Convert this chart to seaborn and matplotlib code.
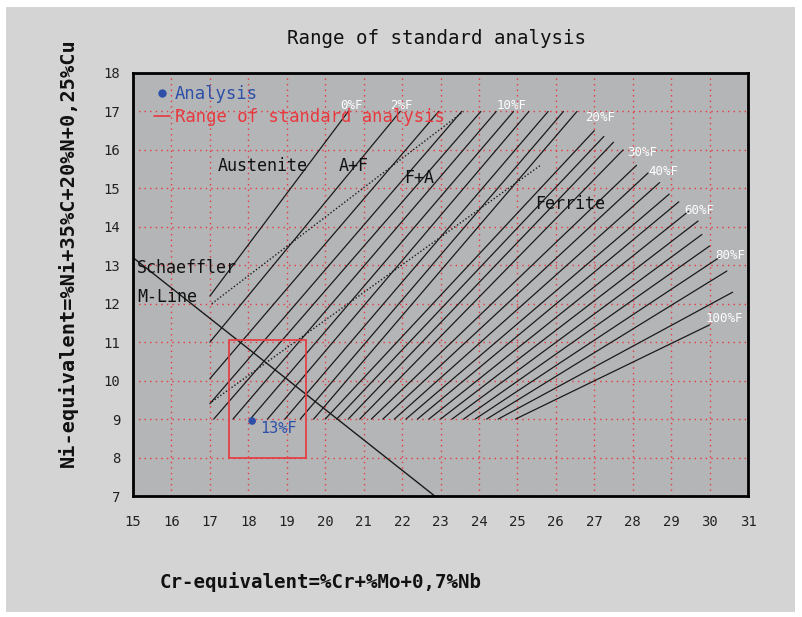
import matplotlib
matplotlib.use('Agg')
import matplotlib.pyplot as plt
import seaborn as sns
import pandas as pd
from matplotlib.patches import Rectangle
from matplotlib.lines import Line2D

# iso-ferrite lines: start and end points
line_x0 = [17.0, 17.0, 17.0, 17.0, 17.1, 17.6, 18.05, 18.5, 18.95, 19.35, 19.7, 20.0, 20.3, 20.6,
           20.9, 21.2, 21.5, 21.8, 22.1, 22.4, 22.7, 23.0, 23.3, 23.6, 23.9, 24.2, 24.5, 24.95]
line_y0 = [12.2, 11.0, 10.05, 9.4, 9.0, 9.0, 9.0, 9.0, 9.0, 9.0, 9.0, 9.0, 9.0, 9.0,
           9.0, 9.0, 9.0, 9.0, 9.0, 9.0, 9.0, 9.0, 9.0, 9.0, 9.0, 9.0, 9.0, 9.0]
line_x1 = [20.6, 21.95, 22.95, 23.55, 24.05, 24.45, 24.9, 25.3, 25.8, 26.2, 26.55, 27.0, 27.25, 27.5,
           27.75, 28.1, 28.4, 28.7, 28.95, 29.2, 29.45, 29.7, 29.8, 30.0, 30.25, 30.45, 30.6, 30.0]
line_y1 = [17.0, 17.0, 17.0, 17.0, 17.0, 17.0, 17.0, 17.0, 17.0, 17.0, 17.0, 16.5, 16.35, 16.2,
           16.0, 15.6, 15.4, 15.15, 14.85, 14.65, 14.4, 14.15, 13.8, 13.5, 13.2, 12.85, 12.3, 11.45]

# dotted phase boundaries
dot_x0 = [17.05, 17.05]
dot_y0 = [12.0, 9.45]
dot_x1 = [23.6, 25.6]
dot_y1 = [17.0, 15.6]

# Schaeffler M-line
mline_x = [15.0, 22.85]
mline_y = [13.2, 7.0]

# white percentage labels
pct_labels = ['0%F', '2%F', '10%F', '20%F', '30%F', '40%F', '60%F', '80%F', '100%F']
pct_x = [20.4, 21.7, 24.45, 26.75, 27.85, 28.4, 29.35, 30.15, 29.9]
pct_y = [17.07, 17.07, 17.07, 16.75, 15.85, 15.35, 14.33, 13.17, 11.52]

# analysis point and range
analysis_x = [18.1]
analysis_y = [8.95]
range_x = [17.5, 19.5]
range_y = [8.0, 11.05]

region_labels = ['Austenite', 'A+F', 'F+A', 'Ferrite', 'Schaeffler', 'M-Line']
region_x = [17.2, 20.35, 22.05, 25.45, 15.1, 15.1]
region_y = [15.45, 15.45, 15.13, 14.47, 12.8, 12.05]

sns.set_style('white')
plt.rcParams['font.family'] = ['DejaVu Sans Mono']

fig = plt.figure(figsize=(8.03, 6.17), dpi=100)
fig.patches.append(Rectangle((6 / 803, 5 / 617), 789 / 803, 605 / 617, transform=fig.transFigure,
                             facecolor='#d4d4d5', edgecolor='none', zorder=-10))
ax = fig.add_axes([133 / 803, 1 - 496 / 617, 615 / 803, 423 / 617])
ax.set_facecolor('#b4b5b7')

rows = []
for i in range(len(line_x0)):
    rows.append({'line': i, 'x': line_x0[i], 'y': line_y0[i]})
    rows.append({'line': i, 'x': line_x1[i], 'y': line_y1[i]})
df = pd.DataFrame(rows)
sns.lineplot(data=df, x='x', y='y', units='line', estimator=None, sort=False,
             color='#1a1a1a', lw=0.9, ax=ax, legend=False)

rows = []
for i in range(len(dot_x0)):
    rows.append({'line': i, 'x': dot_x0[i], 'y': dot_y0[i]})
    rows.append({'line': i, 'x': dot_x1[i], 'y': dot_y1[i]})
dots = pd.DataFrame(rows)
sns.lineplot(data=dots, x='x', y='y', units='line', estimator=None, sort=False,
             color='#1a1a1a', lw=1.0, linestyle=(0, (1, 1.5)), ax=ax, legend=False)

sns.lineplot(x=mline_x, y=mline_y, color='#1a1a1a', lw=1.0, ax=ax)

ax.add_patch(Rectangle((range_x[0], range_y[0]), range_x[1] - range_x[0], range_y[1] - range_y[0],
                       fill=False, edgecolor='#e8383d', lw=1.2, zorder=5))
sns.scatterplot(x=analysis_x, y=analysis_y, color='#2d4fa8', s=30, edgecolor='none', ax=ax, zorder=6)
ax.text(analysis_x[0] + 0.22, analysis_y[0] - 0.3, '13%F', color='#2d4fa8', fontsize=11)

for lab, x, y in zip(pct_labels, pct_x, pct_y):
    ax.text(x, y, lab, color='white', fontsize=9)
for lab, x, y in zip(region_labels, region_x, region_y):
    ax.text(x, y, lab, color='#111111', fontsize=12)

handles = [Line2D([], [], marker='o', color='#2d4fa8', ls='none', markersize=5),
           Line2D([], [], color='#e8383d', lw=1.2)]
ax.legend(handles, ['Analysis', 'Range of standard analysis'], loc='upper left',
          bbox_to_anchor=(0.015, 1.0), frameon=False, handlelength=0.9, handletextpad=0.3,
          labelcolor=['#2d4fa8', '#e8383d'], fontsize=12.4, labelspacing=0.3, borderaxespad=0.3)

ax.set_xlim(15, 31)
ax.set_ylim(7, 18)
ax.set_xticks(range(15, 32))
ax.set_yticks(range(7, 19))
ax.grid(True, color='#e8383d', linestyle=(0, (1, 3)), lw=1.0)
ax.set_axisbelow(True)
ax.tick_params(length=0, labelsize=10, colors='#222222')
ax.tick_params(axis='x', pad=13.5)
ax.tick_params(axis='y', pad=9)
ax.set_xlabel('')
ax.set_ylabel('')
for s in ax.spines.values():
    s.set_color('black')
    s.set_linewidth(2)

fig.text(437 / 803, 1 - 38 / 617, 'Range of standard analysis', ha='center', va='center',
         fontsize=13.8, color='#111111')
fig.text(160 / 803, 1 - 582 / 617, 'Cr-equivalent=%Cr+%Mo+0,7%Nb', ha='left', va='center',
         fontsize=13.8, fontweight='bold', color='#111111')
fig.text(68 / 803, 1 - 253 / 617, 'Ni-equivalent=%Ni+35%C+20%N+0,25%Cu', ha='center', va='center',
         rotation=90, fontsize=14.6, fontweight='bold', color='#111111')

fig.savefig('out.png', dpi=100, facecolor='white')
